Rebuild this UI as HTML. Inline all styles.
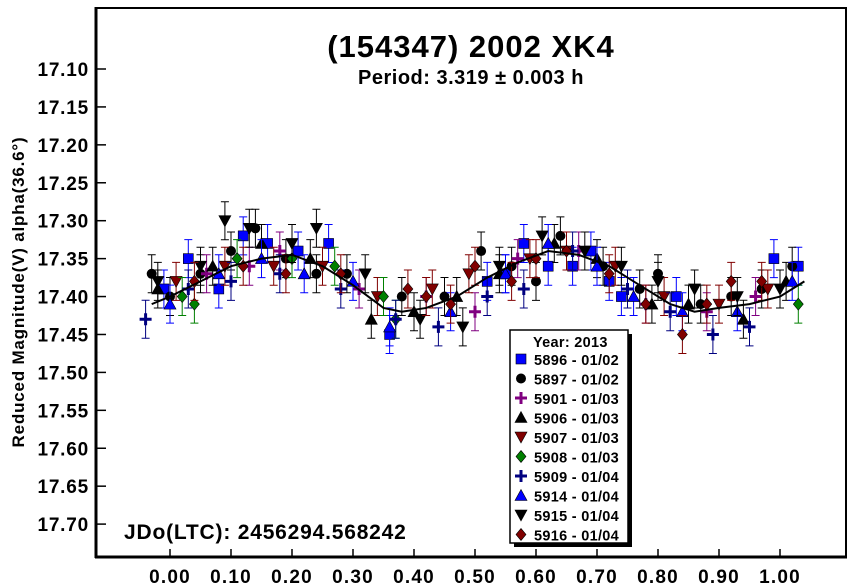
<!DOCTYPE html>
<html><head><meta charset="utf-8"><style>
html,body{margin:0;padding:0;background:#fff;}
svg{display:block;font-family:"Liberation Sans",Arial,sans-serif;font-weight:bold;}
</style></head><body>
<svg id="chart" width="862" height="585" viewBox="0 0 862 585" xmlns="http://www.w3.org/2000/svg">
<rect x="96" y="8" width="750" height="549" fill="#fff" stroke="#000" stroke-width="2"/>
<line x1="95" y1="557" x2="847" y2="557" stroke="#000" stroke-width="3"/>
<line x1="96" y1="7" x2="96" y2="558" stroke="#000" stroke-width="3"/>
<g id="ticks"></g>
<g id="marks"></g>
<text x="471" y="57" font-size="31" letter-spacing="1" text-anchor="middle">(154347) 2002 XK4</text>
<text x="471" y="84" font-size="20" letter-spacing="0.5" text-anchor="middle">Period: 3.319 ± 0.003 h</text>
<text transform="translate(24,292) rotate(-90)" font-size="17" letter-spacing="0.8" text-anchor="middle">Reduced Magnitude(V) alpha(36.6°)</text>
<text x="124" y="539" font-size="21" letter-spacing="0.8">JDo(LTC): 2456294.568242</text>
<g id="legend"></g>
</svg>
<script>
const yTicks=["17.10","17.15","17.20","17.25","17.30","17.35","17.40","17.45","17.50","17.55","17.60","17.65","17.70"];
const xTicks=["0.00","0.10","0.20","0.30","0.40","0.50","0.60","0.70","0.80","0.90","1.00"];
const curvePhase=[-0.03,0,0.05,0.1,0.15,0.2,0.25,0.3,0.35,0.38,0.42,0.47,0.52,0.57,0.62,0.67,0.72,0.77,0.82,0.86,0.9,0.95,1.0,1.04];
const curveMag=[17.41,17.40,17.38,17.36,17.35,17.345,17.36,17.385,17.415,17.42,17.415,17.40,17.375,17.355,17.34,17.345,17.36,17.385,17.41,17.42,17.415,17.41,17.40,17.38];
const seriesNames=["5896 - 01/02","5897 - 01/02","5901 - 01/03","5906 - 01/03","5907 - 01/03","5908 - 01/03","5909 - 01/04","5914 - 01/04","5915 - 01/04","5916 - 01/04"];
const seriesColors=["#0000ff","#000000","#800080","#000000","#800000","#008000","#000080","#0000ff","#000000","#800000"];
const seriesShapes=["square","circle","plus","tri","tridown","diamond","plus","tri","tridown","diamond"];
const ph0=[-0.01,0.03,0.08,0.12,0.16,0.21,0.26,0.36,0.52,0.55,0.58,0.62,0.66,0.69,0.72,0.74,0.83,0.99,1.03];
const mg0=[17.39,17.35,17.39,17.32,17.33,17.34,17.33,17.45,17.38,17.37,17.33,17.36,17.36,17.34,17.38,17.40,17.40,17.35,17.36];
const ph1=[-0.03,0.0,0.05,0.1,0.14,0.19,0.24,0.29,0.38,0.45,0.51,0.56,0.6,0.64,0.71,0.77,0.8,0.87,0.92,0.97,1.02];
const mg1=[17.37,17.40,17.37,17.34,17.31,17.35,17.37,17.37,17.40,17.40,17.34,17.36,17.38,17.32,17.36,17.39,17.37,17.41,17.40,17.39,17.36];
const ph2=[0.06,0.13,0.18,0.31,0.42,0.5,0.57,0.67,0.78,0.88,0.96];
const mg2=[17.37,17.36,17.34,17.39,17.40,17.42,17.35,17.34,17.41,17.42,17.40];
const ph3=[-0.02,0.07,0.15,0.23,0.33,0.4,0.47,0.54,0.63,0.7,0.79,0.85,0.94,1.01];
const mg3=[17.39,17.36,17.33,17.35,17.43,17.42,17.40,17.37,17.33,17.35,17.41,17.41,17.43,17.38];
const ph4=[0.01,0.09,0.17,0.25,0.34,0.43,0.49,0.59,0.65,0.73,0.81,0.9,0.98];
const mg4=[17.38,17.36,17.36,17.36,17.40,17.39,17.37,17.35,17.34,17.36,17.40,17.41,17.39];
const ph5=[0.02,0.04,0.11,0.2,0.27,0.35,0.37,1.03];
const mg5=[17.40,17.41,17.35,17.35,17.36,17.40,17.43,17.41];
const ph6=[-0.04,0.03,0.1,0.18,0.28,0.37,0.44,0.52,0.58,0.66,0.75,0.82,0.89,0.95];
const mg6=[17.43,17.39,17.38,17.37,17.39,17.43,17.44,17.40,17.39,17.34,17.39,17.42,17.45,17.44];
const ph7=[0.0,0.08,0.15,0.22,0.3,0.36,0.46,0.55,0.62,0.7,0.76,0.84,0.93,1.02];
const mg7=[17.41,17.37,17.35,17.37,17.38,17.44,17.42,17.37,17.33,17.36,17.40,17.42,17.42,17.38];
const ph8=[-0.02,0.05,0.09,0.13,0.2,0.24,0.32,0.41,0.48,0.54,0.61,0.68,0.74,0.8,0.86,0.93,1.0];
const mg8=[17.38,17.36,17.30,17.31,17.33,17.31,17.37,17.43,17.44,17.36,17.32,17.34,17.36,17.38,17.39,17.40,17.39];
const ph9=[0.04,0.12,0.19,0.28,0.39,0.42,0.46,0.5,0.56,0.6,0.65,0.72,0.78,0.84,0.88,0.92,0.97];
const mg9=[17.38,17.36,17.37,17.37,17.39,17.40,17.41,17.36,17.38,17.35,17.34,17.37,17.41,17.45,17.41,17.38,17.38];
const seriesPh=[ph0,ph1,ph2,ph3,ph4,ph5,ph6,ph7,ph8,ph9];
const seriesMg=[mg0,mg1,mg2,mg3,mg4,mg5,mg6,mg7,mg8,mg9];

const NS="http://www.w3.org/2000/svg";
const X0=170,XS=610,Y0=69,YS=758.5,YM0=17.10;
function xs(p){return X0+p*XS;}
function ys(m){return Y0+(m-YM0)*YS;}
function mk(tag,attrs,parent){const e=document.createElementNS(NS,tag);for(const k in attrs)e.setAttribute(k,attrs[k]);parent.appendChild(e);return e;}
const ticks=document.getElementById('ticks');
yTicks.forEach(t=>{const y=ys(parseFloat(t));
 const l=mk('line',{x1:96,y1:y,x2:106,y2:y,stroke:'#000','stroke-width':1.5},ticks);
 
 
 const tx=mk('text',{x:89,y:y+7,'font-size':19,'letter-spacing':0.8,'text-anchor':'end'},ticks);tx.textContent=t;
 
 
});
xTicks.forEach(t=>{const x=xs(parseFloat(t));
 const l=mk('line',{x1:x,y1:557,x2:x,y2:549,stroke:'#000','stroke-width':1.5},ticks);
 
 
 const tx=mk('text',{x:x,y:583,'font-size':19,'letter-spacing':1.2,'text-anchor':'middle'},ticks);tx.textContent=t;
 
 
});
function marker(shape,x,y,c,parent,s){
 s=s||5;let e;
 if(shape==='square')e=mk('rect',{x:x-s,y:y-s,width:2*s,height:2*s,fill:c,stroke:'#000','stroke-width':0.6},parent);
 else if(shape==='circle')e=mk('circle',{cx:x,cy:y,r:s,fill:c},parent);
 else if(shape==='plus')e=mk('path',{d:`M${x-s-1},${y}H${x+s+1}M${x},${y-s-1}V${y+s+1}`,stroke:c,'stroke-width':3,fill:'none'},parent);
 else if(shape==='tri')e=mk('path',{d:`M${x},${y-s-1}L${x+s+1},${y+s}L${x-s-1},${y+s}Z`,fill:c,stroke:'#000','stroke-width':0.6},parent);
 else if(shape==='tridown')e=mk('path',{d:`M${x},${y+s+1}L${x+s+1},${y-s}L${x-s-1},${y-s}Z`,fill:c,stroke:'#000','stroke-width':0.6},parent);
 else e=mk('path',{d:`M${x},${y-s-1}L${x+s},${y}L${x},${y+s+1}L${x-s},${y}Z`,fill:c,stroke:'#000','stroke-width':0.6},parent);
 return e;
}
const marks=document.getElementById('marks');
seriesPh.forEach((ph,si)=>{
 const g=mk('g',{},marks);
 
 
 const c=seriesColors[si];
 ph.forEach((p,i)=>{const x=xs(p),y=ys(seriesMg[si][i]),e=19;
  const eb=mk('path',{d:`M${x},${y-e}V${y+e}M${x-4},${y-e}H${x+4}M${x-4},${y+e}H${x+4}`,stroke:c,'stroke-width':1,fill:'none'},g);
  
  
 });
 ph.forEach((p,i)=>{const m=marker(seriesShapes[si],xs(p),ys(seriesMg[si][i]),c,g);
  
  
 });
});
const cd=curvePhase.map((p,i)=>(i?'L':'M')+xs(p)+','+ys(curveMag[i])).join('');
const cv=mk('path',{d:cd,stroke:'#000','stroke-width':2,fill:'none'},marks);


const lg=document.getElementById('legend');
mk('rect',{x:514,y:334,width:118,height:213,fill:'#000'},lg);
mk('rect',{x:510,y:330,width:118,height:213,fill:'#fff',stroke:'#000','stroke-width':1.5},lg);
const lt=mk('text',{x:533,y:347,'font-size':14.5,'letter-spacing':0.3},lg);lt.textContent='Year: 2013';


seriesNames.forEach((n,i)=>{const y=364+i*19.5;
 const m=marker(seriesShapes[i],521,y-5,seriesColors[i],lg,5);
 
 
 const t=mk('text',{x:534,y:y+1,'font-size':14.5,'letter-spacing':0.3},lg);t.textContent=n;
 
 
});
</script>
</body></html>
